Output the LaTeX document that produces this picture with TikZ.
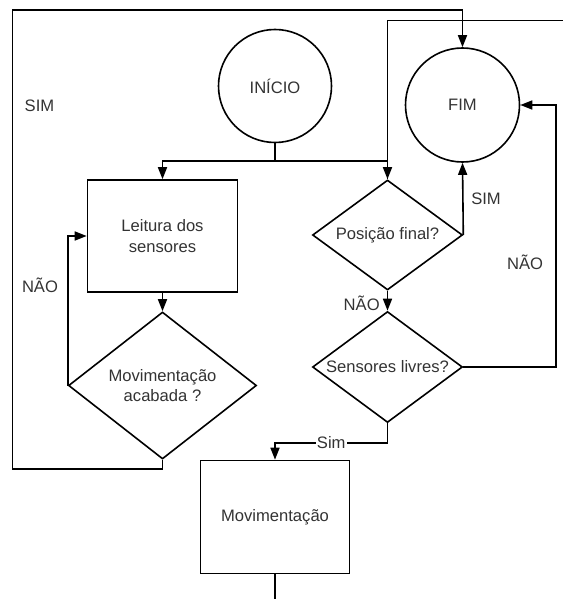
\documentclass[tikz,border=0pt]{standalone}
\usepackage{fontspec}
\setmainfont{Liberation Sans}
\usetikzlibrary{arrows.meta,shapes.geometric}
\definecolor{ink}{HTML}{333333}
\begin{document}
\begin{tikzpicture}[x=1bp,y=-1bp,
  every node/.style={font=\fontsize{16.6bp}{20.5bp}\selectfont, text=ink},
  flow/.style={draw=black, line width=1.6bp},
  term/.style={flow, circle, minimum size=113bp, inner sep=0pt},
  proc/.style={flow, rectangle, minimum width=150bp, minimum height=112bp, inner sep=0pt, align=center},
  test/.style={flow, diamond, inner sep=0pt, align=center},
  arr/.style={-{Triangle[length=12bp,width=9bp]}},
  lbl/.style={inner sep=1bp}]
\useasboundingbox (0,0) rectangle (563,599);

% blocks
\node[term] (start) at (275,86) {INÍCIO};
\node[term, minimum size=114bp] (fim) at (462.5,105) {FIM};
\node[proc] (read) at (162.5,236) {Leitura dos\\sensores};
\node[test, shape aspect=1.28, minimum width=188bp, minimum height=147bp] (done) at (162.5,385.5) {Movimentação\\acabada ?};
\node[test, shape aspect=1.36, minimum width=150bp, minimum height=110bp] (pos) at (387.5,235) {Posição final?};
\node[test, shape aspect=1.35, minimum width=150bp, minimum height=111bp] (free) at (387.5,367) {Sensores livres?};
\node[proc, minimum width=149bp, minimum height=113bp] (move) at (275,517) {Movimentação};

% helper points for routed lines
\coordinate (split) at (275,161);
\coordinate (loopB) at (12.6,469);
\coordinate (loopT) at (12.6,10);
\coordinate (rside) at (556,105);
\coordinate (inR) at (563,20.7);
\coordinate (outB) at (275,599);

% connectors
\draw[flow] (inR) -| (pos.north);
\draw[flow] (start.south) -- (split);
\draw[flow,arr] (split) -| (read.north);
\draw[flow,arr] (split) -| (pos.north);
\draw[flow,arr] (read) -- (done);
\draw[flow,arr] (done.west) |- (read.west);
\draw[flow,arr] (done.south) |- (loopB) -- (loopT) -| (fim.north);
\draw[flow,arr] (pos.east) -- (fim.south);
\draw[flow,arr] (pos) -- (free);
\draw[flow,arr] (free.east) -| (rside) -- (fim.east);
\draw[flow,arr] (free.south) -- ++(0,19.5) -| node[pos=0.25, lbl, fill=white] {Sim} (move.north);
\draw[flow] (move.south) -- (outB);

% branch labels
\node[lbl] (lsim1) at (39.5,106) {SIM};
\node[lbl] (lnao1) at (40,285) {NÃO};
\node[lbl] (lsim2) at (486,199) {SIM};
\node[lbl] (lnao2) at (525,262) {NÃO};
\node[lbl] (lnao3) at (361.7,303) {NÃO};
\end{tikzpicture}
\end{document}
